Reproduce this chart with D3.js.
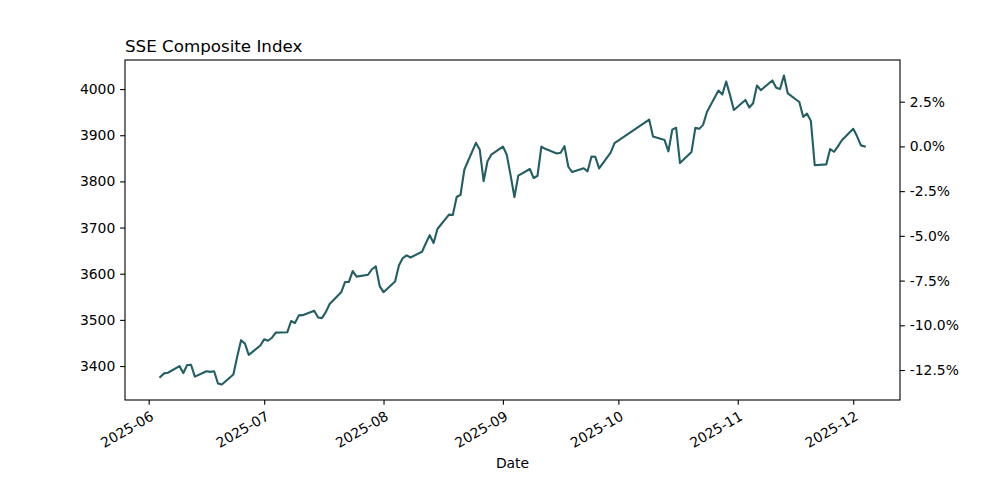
<!DOCTYPE html>
<html>
<head>
<meta charset="utf-8">
<script src="https://cdn.jsdelivr.net/npm/d3@7"></script>
<style>
  body { margin: 0; background: #fff; }
  svg { font-family: "DejaVu Sans", sans-serif; }
</style>
</head>
<body>
<div class="plot"></div>
<script>
// SSE closes
var dates = ["2025-06-04","2025-06-05","2025-06-06","2025-06-09","2025-06-10","2025-06-11","2025-06-12","2025-06-13",
  "2025-06-16","2025-06-17","2025-06-18","2025-06-19","2025-06-20","2025-06-23","2025-06-24","2025-06-25","2025-06-26",
  "2025-06-27","2025-06-30","2025-07-01","2025-07-02","2025-07-03","2025-07-04","2025-07-07","2025-07-08","2025-07-09",
  "2025-07-10","2025-07-11","2025-07-14","2025-07-15","2025-07-16","2025-07-17","2025-07-18","2025-07-21","2025-07-22",
  "2025-07-23","2025-07-24","2025-07-25","2025-07-28","2025-07-29","2025-07-30","2025-07-31","2025-08-01","2025-08-04",
  "2025-08-05","2025-08-06","2025-08-07","2025-08-08","2025-08-11","2025-08-12","2025-08-13","2025-08-14","2025-08-15",
  "2025-08-18","2025-08-19","2025-08-20","2025-08-21","2025-08-22","2025-08-25","2025-08-26","2025-08-27","2025-08-28",
  "2025-08-29","2025-09-01","2025-09-02","2025-09-03","2025-09-04","2025-09-05","2025-09-08","2025-09-09","2025-09-10",
  "2025-09-11","2025-09-12","2025-09-15","2025-09-16","2025-09-17","2025-09-18","2025-09-19","2025-09-22","2025-09-23",
  "2025-09-24","2025-09-25","2025-09-26","2025-09-29","2025-09-30","2025-10-09","2025-10-10","2025-10-13","2025-10-14",
  "2025-10-15","2025-10-16","2025-10-17","2025-10-20","2025-10-21","2025-10-22","2025-10-23","2025-10-24","2025-10-27",
  "2025-10-28","2025-10-29","2025-10-30","2025-10-31","2025-11-03","2025-11-04","2025-11-05","2025-11-06","2025-11-07",
  "2025-11-10","2025-11-11","2025-11-12","2025-11-13","2025-11-14","2025-11-17","2025-11-18","2025-11-19","2025-11-20",
  "2025-11-21","2025-11-24","2025-11-25","2025-11-26","2025-11-27","2025-11-28","2025-12-01","2025-12-02","2025-12-03",
  "2025-12-04"];

var closes = [3376.2,3384.1,3385.4,3399.8,3384.8,3402.3,3402.7,3377.0,
  3388.7,3387.4,3388.8,3362.1,3359.9,3381.6,3420.6,3456.0,3448.5,
  3424.2,3444.4,3457.8,3454.8,3461.2,3472.3,3473.1,3497.5,3493.1,
  3509.7,3510.2,3519.7,3505.0,3503.8,3516.8,3534.5,3559.8,3581.9,
  3582.3,3605.7,3593.7,3597.9,3609.7,3615.7,3573.2,3560.0,3583.3,
  3617.6,3634.0,3639.7,3635.1,3647.6,3665.9,3683.5,3666.4,3696.8,
  3728.0,3727.3,3766.2,3771.1,3825.8,3883.6,3868.4,3800.4,3843.6,
  3857.9,3875.5,3858.1,3813.6,3765.9,3812.5,3826.8,3807.3,3812.2,
  3875.3,3870.6,3860.5,3861.9,3876.3,3831.7,3820.1,3828.6,3821.8,
  3853.6,3853.3,3828.1,3862.5,3882.8,3934.0,3897.0,3889.5,3865.2,
  3912.2,3916.2,3839.8,3863.9,3916.3,3913.8,3922.4,3950.3,3996.9,
  3988.2,4016.3,3986.9,3954.8,3976.5,3960.2,3969.3,4007.8,3997.6,
  4018.6,4002.8,4000.1,4029.5,3990.5,3972.0,3939.8,3946.7,3931.1,
  3834.9,3836.8,3870.0,3864.2,3875.3,3888.6,3914.0,3897.7,3878.0,
  3875.8];

var leftTicks = [3400, 3500, 3600, 3700, 3800, 3900, 4000];
var pctTicks = [-12.5, -10, -7.5, -5, -2.5, 0, 2.5];
var monthTicks = ["2025-06-01","2025-07-01","2025-08-01","2025-09-01","2025-10-01","2025-11-01","2025-12-01"];

var margin = {top: 60, right: 100, bottom: 100, left: 125},
    width = 1000 - margin.left - margin.right,
    height = 500 - margin.top - margin.bottom;

var svg = d3.select(".plot").append("svg")
    .attr("width", 1000)
    .attr("height", 500);

svg.append("rect").attr("width", 1000).attr("height", 500).attr("fill", "#fff");

var parseTime = d3.timeParse("%Y-%m-%d");
var data = dates.map(function(d, i) { return {date: parseTime(d), close: closes[i]}; });
var base = closes[closes.length - 1];

// matplotlib style 5% padding
function pad(ext) {
  var span = ext[1] - ext[0];
  return [ext[0] - span * 0.05, ext[1] + span * 0.05];
}

var tExt = pad(d3.extent(data, function(d) { return +d.date; }));
var x = d3.scaleTime()
    .domain([new Date(tExt[0]), new Date(tExt[1])])
    .range([0, width]);

var yDom = pad(d3.extent(closes));
var y = d3.scaleLinear().domain(yDom).range([height, 0]);
var yPct = d3.scaleLinear()
    .domain([(yDom[0] / base - 1) * 100, (yDom[1] / base - 1) * 100])
    .range([height, 0]);

var g = svg.append("g")
    .attr("transform", "translate(" + margin.left + "," + margin.top + ")");

var tickLen = 4.86, fs = 13.9;

// left axis
var yAxis = g.append("g")
    .call(d3.axisLeft(y).tickValues(leftTicks).tickSize(tickLen).tickPadding(4.86).tickFormat(d3.format("d")));
// right axis
var yAxisR = g.append("g")
    .attr("transform", "translate(" + width + ",0)")
    .call(d3.axisRight(yPct).tickValues(pctTicks).tickSize(tickLen).tickPadding(4.86)
      .tickFormat(function(d) { return d.toFixed(1) + "%"; }));
// bottom axis
var xAxis = g.append("g")
    .attr("transform", "translate(0," + height + ")")
    .call(d3.axisBottom(x).tickValues(monthTicks.map(parseTime)).tickSize(tickLen).tickFormat(d3.timeFormat("%Y-%m")));

[yAxis, yAxisR, xAxis].forEach(function(a) {
  a.select(".domain").remove();
  a.selectAll(".tick line").attr("stroke", "#000").attr("stroke-width", 1.1);
  a.selectAll(".tick text").attr("fill", "#000").style("font-size", fs + "px")
    .style("font-family", "DejaVu Sans");
});

xAxis.selectAll(".tick text")
    .attr("y", 0).attr("dy", "0.78em")
    .attr("text-anchor", "end")
    .attr("transform", "translate(0," + (tickLen + 4.86) + ") rotate(-30)");

// frame
g.append("rect")
    .attr("width", width)
    .attr("height", height)
    .attr("fill", "none")
    .attr("stroke", "#000")
    .attr("stroke-width", 1.1);

var line = d3.line()
    .x(function(d) { return x(d.date); })
    .y(function(d) { return y(d.close); });

g.append("path")
    .datum(data)
    .attr("d", line)
    .attr("fill", "none")
    .attr("stroke", "#225e63")
    .attr("stroke-width", 2.1)
    .attr("stroke-linejoin", "round")
    .attr("stroke-linecap", "square");

// title + label
svg.append("text")
    .attr("x", margin.left)
    .attr("y", margin.top - 8.3)
    .style("font-size", "16.7px")
    .text("SSE Composite Index");

svg.append("text")
    .attr("x", margin.left + width / 2)
    .attr("y", 468)
    .attr("text-anchor", "middle")
    .style("font-size", fs + "px")
    .text("Date");
</script>
</body>
</html>
